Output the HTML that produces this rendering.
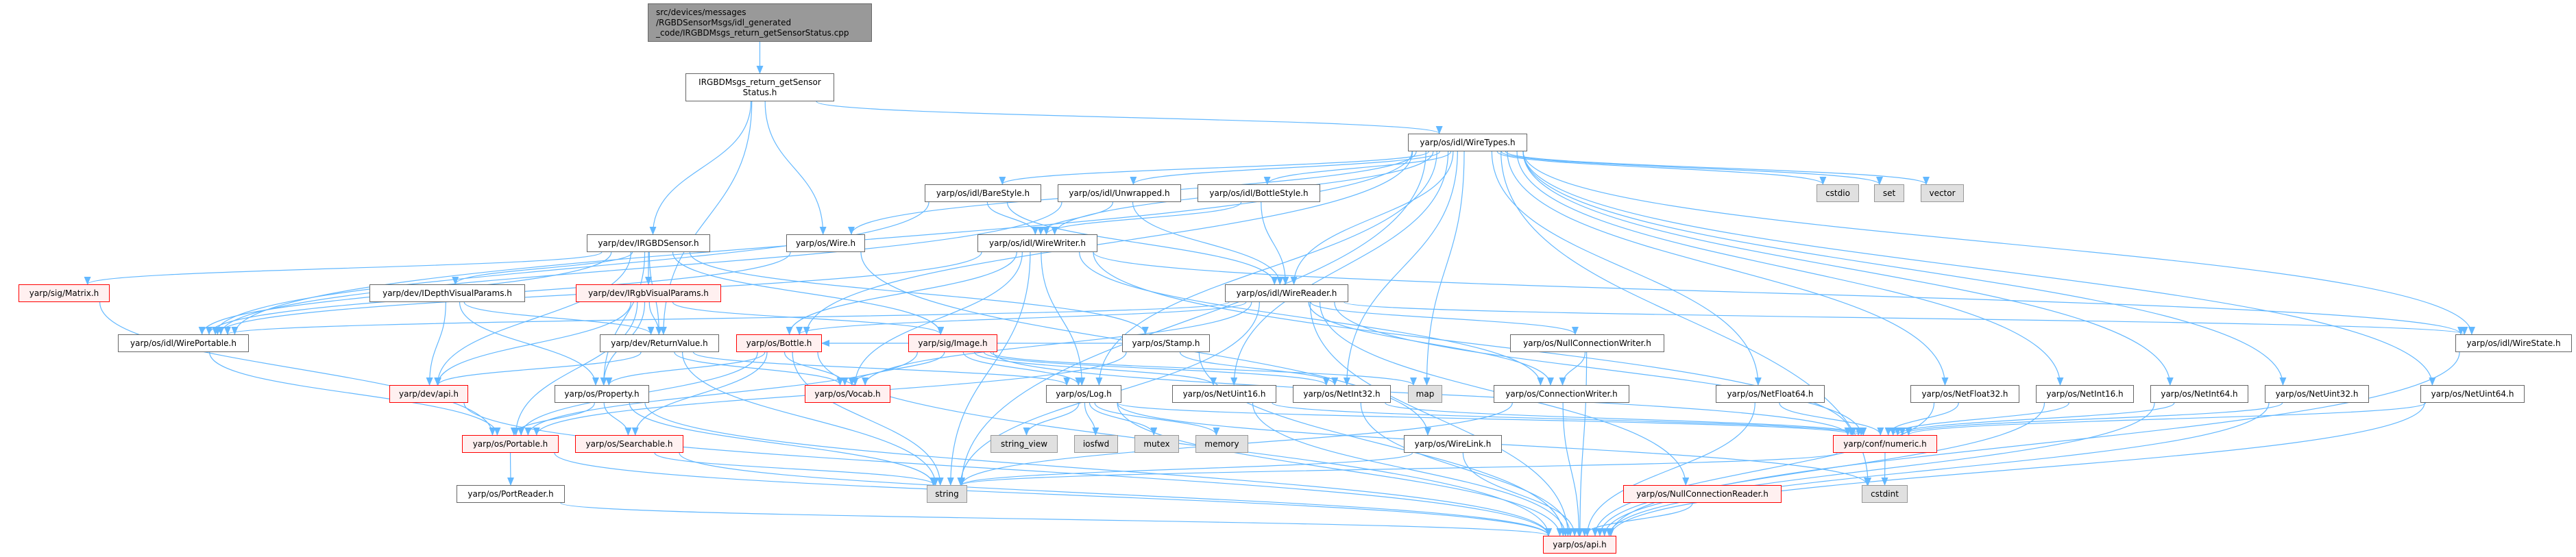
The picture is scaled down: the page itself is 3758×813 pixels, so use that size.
<!DOCTYPE html>
<html><head><meta charset="utf-8">
<style>
html,body{margin:0;padding:0;background:#fff;}
#c{position:relative;width:3758px;height:813px;overflow:hidden;font-family:"DejaVu Sans","Liberation Sans",sans-serif;font-size:12px;color:#000;}
.n{position:absolute;box-sizing:border-box;border:1px solid #666;background:#fff;display:flex;align-items:center;justify-content:center;white-space:nowrap;line-height:15px;text-align:center;z-index:2;}
.r{border-color:#ff0000;background:#fff0f0;}
.g{border-color:#999;background:#e0e0e0;}
.d{background:#999;border-color:#666;justify-content:flex-start;text-align:left;padding-left:11px;}
svg{position:absolute;left:0;top:0;z-index:1;}
</style></head><body>
<div id="c">
<svg id="s" width="3758" height="813" xmlns="http://www.w3.org/2000/svg">
<defs><marker id="a" markerWidth="12" markerHeight="10" refX="11" refY="5" orient="auto" markerUnits="userSpaceOnUse"><path d="M0,0 L12,5 L0,10 z" fill="#63b8ff"/></marker></defs>
<g id="e" fill="none" stroke="#63b8ff" stroke-width="1.2"></g>
</svg>
<div class="n d" id="top" style="left:945px;top:5px;width:327px;height:56px;">src/devices/messages<br>/RGBDSensorMsgs/idl_generated<br>_code/IRGBDMsgs_return_getSensorStatus.cpp</div>
<div class="n" id="msg" style="left:1000px;top:107px;width:217px;height:41px;">IRGBDMsgs_return_getSensor<br>Status.h</div>
<div class="n" id="wt" style="left:2054px;top:195px;width:174px;height:26px;">yarp/os/idl/WireTypes.h</div>
<div class="n" id="bare" style="left:1349px;top:269px;width:170px;height:26px;">yarp/os/idl/BareStyle.h</div>
<div class="n" id="unw" style="left:1543px;top:269px;width:180px;height:26px;">yarp/os/idl/Unwrapped.h</div>
<div class="n" id="bot" style="left:1747px;top:269px;width:179px;height:26px;">yarp/os/idl/BottleStyle.h</div>
<div class="n g" id="cstdio" style="left:2650px;top:269px;width:62px;height:26px;">cstdio</div>
<div class="n g" id="set" style="left:2734px;top:269px;width:44px;height:26px;">set</div>
<div class="n g" id="vector" style="left:2802px;top:269px;width:63px;height:26px;">vector</div>
<div class="n" id="sens" style="left:856px;top:342px;width:180px;height:26px;">yarp/dev/IRGBDSensor.h</div>
<div class="n" id="wire" style="left:1147px;top:342px;width:115px;height:26px;">yarp/os/Wire.h</div>
<div class="n" id="ww" style="left:1426px;top:342px;width:175px;height:26px;">yarp/os/idl/WireWriter.h</div>
<div class="n r" id="matrix" style="left:27px;top:415px;width:133px;height:26px;">yarp/sig/Matrix.h</div>
<div class="n" id="idv" style="left:539px;top:415px;width:227px;height:26px;">yarp/dev/IDepthVisualParams.h</div>
<div class="n r" id="irgb" style="left:840px;top:415px;width:212px;height:26px;">yarp/dev/IRgbVisualParams.h</div>
<div class="n" id="wr" style="left:1787px;top:415px;width:180px;height:26px;">yarp/os/idl/WireReader.h</div>
<div class="n" id="wp" style="left:172px;top:488px;width:191px;height:26px;">yarp/os/idl/WirePortable.h</div>
<div class="n" id="rv" style="left:875px;top:488px;width:174px;height:26px;">yarp/dev/ReturnValue.h</div>
<div class="n r" id="bottle" style="left:1074px;top:488px;width:125px;height:26px;">yarp/os/Bottle.h</div>
<div class="n r" id="image" style="left:1325px;top:488px;width:130px;height:26px;">yarp/sig/Image.h</div>
<div class="n" id="stamp" style="left:1637px;top:488px;width:128px;height:26px;">yarp/os/Stamp.h</div>
<div class="n" id="ncw" style="left:2203px;top:488px;width:225px;height:26px;">yarp/os/NullConnectionWriter.h</div>
<div class="n" id="ws" style="left:3582px;top:488px;width:170px;height:26px;">yarp/os/idl/WireState.h</div>
<div class="n r" id="devapi" style="left:568px;top:562px;width:115px;height:26px;">yarp/dev/api.h</div>
<div class="n" id="prop" style="left:809px;top:562px;width:138px;height:26px;">yarp/os/Property.h</div>
<div class="n r" id="vocab" style="left:1174px;top:562px;width:125px;height:26px;">yarp/os/Vocab.h</div>
<div class="n" id="log" style="left:1526px;top:562px;width:110px;height:26px;">yarp/os/Log.h</div>
<div class="n" id="nu16" style="left:1710px;top:562px;width:152px;height:26px;">yarp/os/NetUint16.h</div>
<div class="n" id="ni32" style="left:1886px;top:562px;width:143px;height:26px;">yarp/os/NetInt32.h</div>
<div class="n g" id="map" style="left:2054px;top:562px;width:50px;height:26px;">map</div>
<div class="n" id="cw" style="left:2179px;top:562px;width:198px;height:26px;">yarp/os/ConnectionWriter.h</div>
<div class="n" id="nf64" style="left:2503px;top:562px;width:159px;height:26px;">yarp/os/NetFloat64.h</div>
<div class="n" id="nf32" style="left:2787px;top:562px;width:159px;height:26px;">yarp/os/NetFloat32.h</div>
<div class="n" id="ni16" style="left:2970px;top:562px;width:143px;height:26px;">yarp/os/NetInt16.h</div>
<div class="n" id="ni64" style="left:3137px;top:562px;width:143px;height:26px;">yarp/os/NetInt64.h</div>
<div class="n" id="nu32" style="left:3304px;top:562px;width:152px;height:26px;">yarp/os/NetUint32.h</div>
<div class="n" id="nu64" style="left:3531px;top:562px;width:152px;height:26px;">yarp/os/NetUint64.h</div>
<div class="n r" id="portable" style="left:674px;top:635px;width:141px;height:26px;">yarp/os/Portable.h</div>
<div class="n r" id="search" style="left:839px;top:635px;width:158px;height:26px;">yarp/os/Searchable.h</div>
<div class="n g" id="sv" style="left:1445px;top:635px;width:98px;height:26px;">string_view</div>
<div class="n g" id="iosfwd" style="left:1567px;top:635px;width:64px;height:26px;">iosfwd</div>
<div class="n g" id="mutex" style="left:1655px;top:635px;width:65px;height:26px;">mutex</div>
<div class="n g" id="memory" style="left:1744px;top:635px;width:77px;height:26px;">memory</div>
<div class="n" id="wl" style="left:2048px;top:635px;width:143px;height:26px;">yarp/os/WireLink.h</div>
<div class="n r" id="numeric" style="left:2674px;top:635px;width:152px;height:26px;">yarp/conf/numeric.h</div>
<div class="n" id="portreader" style="left:666px;top:708px;width:158px;height:26px;">yarp/os/PortReader.h</div>
<div class="n g" id="string" style="left:1352px;top:708px;width:59px;height:26px;">string</div>
<div class="n r" id="ncr" style="left:2368px;top:708px;width:231px;height:26px;">yarp/os/NullConnectionReader.h</div>
<div class="n g" id="cstdint" style="left:2716px;top:708px;width:67px;height:26px;">cstdint</div>
<div class="n r" id="api" style="left:2251px;top:782px;width:107px;height:26px;">yarp/os/api.h</div>
</div>
<script>
var E=[
"top msg","msg wt","msg sens","msg wire","msg rv",
"wt bare","wt unw","wt bot","wt ww","wt wr","wt wp","wt wire","wt string","wt cstdio","wt set","wt vector","wt nf32","wt ni16","wt ni64","wt nu32","wt nu64","wt ws","wt nf64","wt ni32","wt nu16","wt map","wt log","wt cstdint","wt bottle",
"bare ww","bare wr","bare wp","unw ww","unw wr","unw wp","bot ww","bot wr",
"ww wp","ww bottle","ww vocab","ww string","ww ws","ww numeric","ww cw","ww log",
"wr wp","wr bottle","wr vocab","wr string","wr ws","wr ncw","wr ncr","wr numeric","wr cw","wr api",
"wire wp","wire wl",
"sens idv","sens irgb","sens matrix","sens rv","sens image","sens stamp","sens devapi","sens prop","sens wp",
"idv devapi","idv prop","idv rv","irgb devapi","irgb prop","irgb rv","irgb image","irgb portable",
"matrix portable","wp portable","rv devapi","rv vocab","rv log","rv string",
"bottle prop","bottle search","bottle vocab","bottle portable","bottle string","bottle api",
"prop portable","prop search","prop string","prop api",
"image vocab","image portable","image nu16","image ni32","image map","image log","image numeric",
"stamp bottle","stamp ni32","stamp portable","stamp api",
"log sv","log iosfwd","log mutex","log memory","log api","log cstdint","log numeric",
"portable portreader","portable api","portreader api","search string","search api",
"nu16 numeric","nu16 api","ni32 numeric","ni32 api","nf64 numeric","nf64 api","nf32 numeric","nf32 api","ni16 numeric","ni16 api","ni64 numeric","ni64 api","nu32 numeric","nu32 api","nu64 numeric","nu64 api",
"numeric cstdint","numeric string","cw api","cw string","ncw cw","ncw api","ncr api","wl api","wl string","ws api","devapi api"
];
function b(id){var e=document.getElementById(id);var x=e.offsetLeft,y=e.offsetTop,w=e.offsetWidth,h=e.offsetHeight;return{x1:x,x2:x+w,y1:y,y2:y+h,cx:x+w/2,cy:y+h/2,w:w};}
var g=document.getElementById('e'),s='';
E.forEach(function(p){var q=p.split(' '),a=b(q[0]),c=b(q[1]);var d;
 var off=Math.max(-a.w/2+6,Math.min(a.w/2-6,(c.cx-a.cx)*0.08));
 if(c.y1>=a.y2-1){var sx=a.cx+off,sy=a.y2,ex=c.cx-Math.max(-c.w/2+8,Math.min(c.w/2-8,(c.cx-a.cx)*0.04)),ey=c.y1,dy=ey-sy;
  d='M'+sx+','+sy+' C'+sx+','+(sy+dy*0.5)+' '+ex+','+(ey-dy*0.5)+' '+ex+','+ey;}
 else if(c.y2<=a.y1+1){var sx=a.cx+off,sy=a.y1,ex=c.cx,ey=c.y2,dy=sy-ey;
  d='M'+sx+','+sy+' C'+sx+','+(sy-dy*0.5)+' '+ex+','+(ey+dy*0.5)+' '+ex+','+ey;}
 else{var sx,ex;if(c.cx>a.cx){sx=a.x2;ex=c.x1;}else{sx=a.x1;ex=c.x2;}
  d='M'+sx+','+a.cy+' C'+((sx+ex)/2)+','+a.cy+' '+((sx+ex)/2)+','+c.cy+' '+ex+','+c.cy;}
 s+='<path d="'+d+'" marker-end="url(#a)"/>';});
g.innerHTML=s;
</script>
</body></html>
